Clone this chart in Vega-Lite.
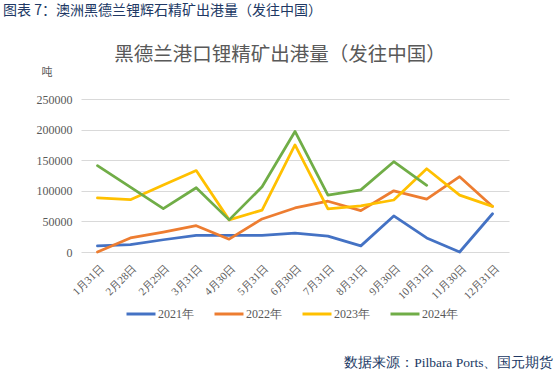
{
  "$schema": "https://vega.github.io/schema/vega-lite/v6.json",
  "background": "white",
  "padding": {"left": 3, "top": 4, "right": 3, "bottom": 4},
  "title": {
    "text": "图表 7：澳洲黑德兰锂辉石精矿出港量（发往中国）",
    "anchor": "start",
    "frame": "bounds",
    "font": "Noto Sans CJK SC",
    "fontSize": 14,
    "fontWeight": "normal",
    "color": "#203864",
    "offset": 27,
    "dx": -33
  },
  "vconcat": [
    {
      "title": {
        "text": "黑德兰港口锂精矿出港量（发往中国）",
        "anchor": "middle",
        "frame": "group",
        "font": "Noto Sans CJK SC",
        "fontSize": 19.5,
        "fontWeight": "normal",
        "color": "#595959",
        "offset": 0.5,
        "dx": -15
      },
      "width": 428,
      "height": 153,
      "data": {
        "values": [
          {"date": "1月31日", "year": "2021年", "value": 10000},
          {"date": "2月28日", "year": "2021年", "value": 12000},
          {"date": "2月29日", "year": "2021年", "value": 20000},
          {"date": "3月31日", "year": "2021年", "value": 27000},
          {"date": "4月30日", "year": "2021年", "value": 27000},
          {"date": "5月31日", "year": "2021年", "value": 27000},
          {"date": "6月30日", "year": "2021年", "value": 31000},
          {"date": "7月31日", "year": "2021年", "value": 26000},
          {"date": "8月31日", "year": "2021年", "value": 10000},
          {"date": "9月30日", "year": "2021年", "value": 59000},
          {"date": "10月31日", "year": "2021年", "value": 23000},
          {"date": "11月30日", "year": "2021年", "value": 0},
          {"date": "12月31日", "year": "2021年", "value": 62500},
          {"date": "1月31日", "year": "2022年", "value": 0},
          {"date": "2月28日", "year": "2022年", "value": 23000},
          {"date": "2月29日", "year": "2022年", "value": 32500},
          {"date": "3月31日", "year": "2022年", "value": 43000},
          {"date": "4月30日", "year": "2022年", "value": 21000},
          {"date": "5月31日", "year": "2022年", "value": 54000},
          {"date": "6月30日", "year": "2022年", "value": 72000},
          {"date": "7月31日", "year": "2022年", "value": 83000},
          {"date": "8月31日", "year": "2022年", "value": 67500},
          {"date": "9月30日", "year": "2022年", "value": 100000},
          {"date": "10月31日", "year": "2022年", "value": 86500},
          {"date": "11月30日", "year": "2022年", "value": 123000},
          {"date": "12月31日", "year": "2022年", "value": 74500},
          {"date": "1月31日", "year": "2023年", "value": 88500},
          {"date": "2月28日", "year": "2023年", "value": 85500},
          {"date": "2月29日", "year": "2023年", "value": 109500},
          {"date": "3月31日", "year": "2023年", "value": 133000},
          {"date": "4月30日", "year": "2023年", "value": 52500},
          {"date": "5月31日", "year": "2023年", "value": 68500},
          {"date": "6月30日", "year": "2023年", "value": 175000},
          {"date": "7月31日", "year": "2023年", "value": 70500},
          {"date": "8月31日", "year": "2023年", "value": 75500},
          {"date": "9月30日", "year": "2023年", "value": 85000},
          {"date": "10月31日", "year": "2023年", "value": 136000},
          {"date": "11月30日", "year": "2023年", "value": 93000},
          {"date": "12月31日", "year": "2023年", "value": 74500},
          {"date": "1月31日", "year": "2024年", "value": 141000},
          {"date": "2月28日", "year": "2024年", "value": 106000},
          {"date": "2月29日", "year": "2024年", "value": 71000},
          {"date": "3月31日", "year": "2024年", "value": 105000},
          {"date": "4月30日", "year": "2024年", "value": 52500},
          {"date": "5月31日", "year": "2024年", "value": 106500},
          {"date": "6月30日", "year": "2024年", "value": 197000},
          {"date": "7月31日", "year": "2024年", "value": 93000},
          {"date": "8月31日", "year": "2024年", "value": 101500},
          {"date": "9月30日", "year": "2024年", "value": 147500},
          {"date": "10月31日", "year": "2024年", "value": 109000}
        ]
      },
      "mark": {"type": "line", "strokeWidth": 2.75, "strokeCap": "round", "strokeJoin": "round"},
      "encoding": {
        "x": {
          "field": "date",
          "type": "ordinal",
          "sort": ["1月31日", "2月28日", "2月29日", "3月31日", "4月30日", "5月31日", "6月30日", "7月31日", "8月31日", "9月30日", "10月31日", "11月30日", "12月31日"],
          "scale": {"type": "point", "padding": 0.5},
          "axis": {
            "title": "数据来源：Pilbara Ports、国元期货",
            "titleFont": "Liberation Serif",
            "titleFontSize": 13.5,
            "titleFontWeight": "normal",
            "titleColor": "#203864",
            "titleAlign": "right",
            "titleBaseline": "middle",
            "titleAnchor": "end",
            "titleX": 472,
            "titleY": 110,
            "labelAngle": -45,
            "labelFont": "Liberation Serif",
            "labelFontSize": 11,
            "labelColor": "#595959",
            "ticks": false,
            "domain": false,
            "grid": false,
            "labelPadding": 10
          }
        },
        "y": {
          "field": "value",
          "type": "quantitative",
          "scale": {"domain": [0, 250000], "nice": false},
          "axis": {
            "title": "吨",
            "titleAngle": 0,
            "titleAlign": "left",
            "titleBaseline": "middle",
            "titleX": -40,
            "titleY": -27,
            "titleFont": "Noto Sans CJK SC",
            "titleFontSize": 11,
            "titleFontWeight": "normal",
            "titleColor": "#595959",
            "values": [0, 50000, 100000, 150000, 200000, 250000],
            "format": "d",
            "labelFont": "Liberation Serif",
            "labelFontSize": 12,
            "labelColor": "#595959",
            "labelPadding": 9,
            "ticks": false,
            "domain": false,
            "grid": true,
            "gridColor": "#d9d9d9",
            "gridWidth": 1
          }
        },
        "color": {
          "field": "year",
          "type": "nominal",
          "scale": {
            "domain": ["2021年", "2022年", "2023年", "2024年"],
            "range": ["#4472C4", "#ED7D31", "#FFC000", "#70AD47"]
          },
          "legend": {
            "title": null,
            "orient": "none",
            "legendX": 44,
            "legendY": 199,
            "direction": "horizontal",
            "symbolType": "stroke",
            "symbolSize": 841,
            "symbolStrokeWidth": 3,
            "labelFont": "Liberation Serif",
            "labelFontSize": 12,
            "labelColor": "#595959",
            "labelOffset": 1,
            "columnPadding": 14
          }
        }
      }
    }
  ],
  "config": {
    "view": {"stroke": null},
    "concat": {"spacing": 0}
  }
}
